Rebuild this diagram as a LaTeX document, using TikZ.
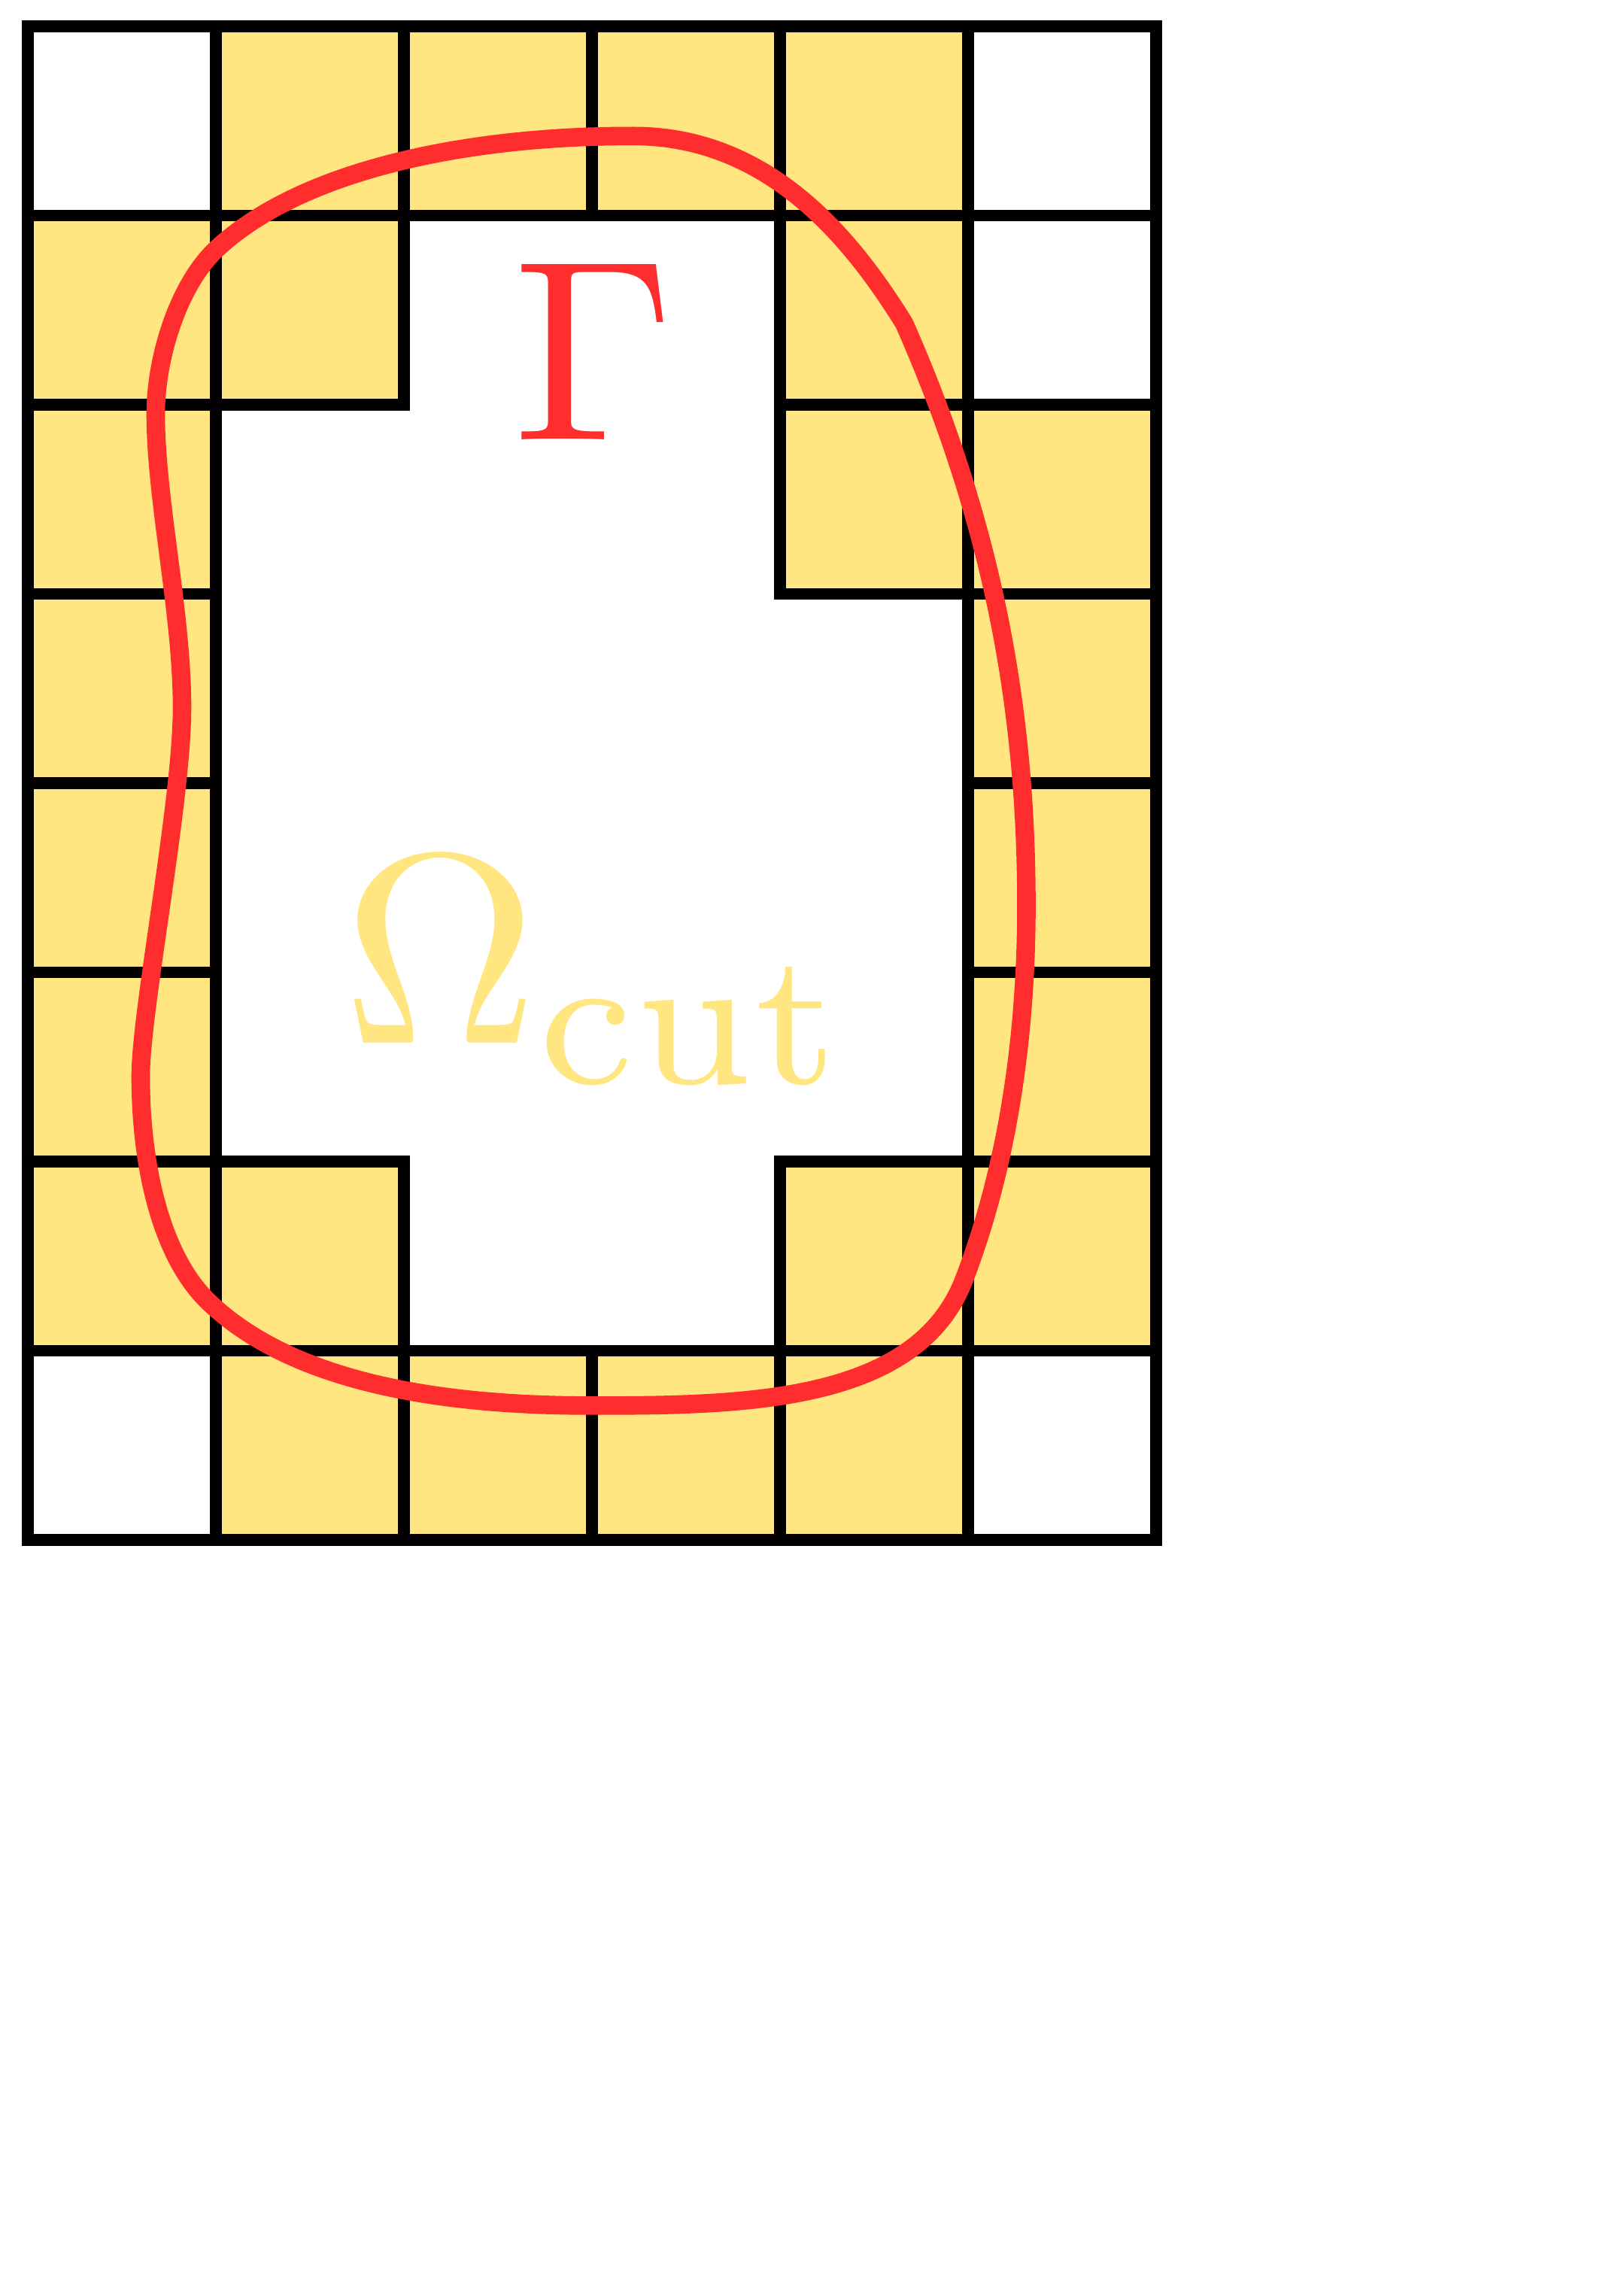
\documentclass[tikz,border=0pt]{standalone}
\definecolor{cutyellow}{RGB}{255,230,128}
\definecolor{gammared}{RGB}{255,45,45}

\begin{document}
\begin{tikzpicture}[x=1cm, y=1.006cm,
    cell/.style={draw=black, line width=1.8pt},
    ring/.style={cell, fill=cutyellow},
    blank/.style={cell, fill=white},
    boundary/.style={draw=gammared, line width=2.8pt},
    symb/.style={inner sep=0pt},
]
    \useasboundingbox (-0.148,-3.996) rectangle (8.484,8.139);

    % corner cells outside the cut band
    \foreach \x/\y in {0/7, 5/7, 5/6, 0/0, 5/0}
        \draw[blank] (\x,\y) rectangle ++(1,1);

    % cut cells
    \foreach \x/\y in {1/7, 2/7, 3/7, 4/7,
                       0/6, 1/6, 4/6,
                       0/5, 4/5, 5/5,
                       0/4, 5/4, 0/3, 5/3, 0/2, 5/2,
                       0/1, 1/1, 4/1, 5/1,
                       1/0, 2/0, 3/0, 4/0}
        \draw[ring] (\x,\y) rectangle ++(1,1);

    % interface
    \draw[boundary] (0.82,4.40)
        .. controls (0.82,4.90) and (0.68,5.50) .. (0.68,5.95)
        .. controls (0.68,6.25) and (0.80,6.63) .. (1.00,6.82)
        .. controls (1.475,7.263) and (2.40,7.42) .. (3.20,7.42)
        .. controls (3.95,7.43) and (4.395,6.854) .. (4.66,6.43)
        .. controls (5.148,5.333) and (5.31,4.35) .. (5.31,3.35)
        .. controls (5.31,2.70) and (5.22,2.00) .. (4.98,1.38)
        .. controls (4.73,0.726) and (3.82,0.71) .. (3.00,0.71)
        .. controls (2.30,0.71) and (1.45,0.80) .. (0.97,1.25)
        .. controls (0.70,1.50) and (0.60,2.00) .. (0.60,2.45)
        .. controls (0.60,2.80) and (0.82,3.90) .. cycle;

    \node[symb, scale=3.9, text=gammared] (gamma) at (3.01,6.28) {$\Gamma$};
    \node[symb, scale=4.1, anchor=base west, text=cutyellow] (omega)
        at (1.645,2.625) {$\Omega_{\mathrm{cut}}$};
\end{tikzpicture}
\end{document}
